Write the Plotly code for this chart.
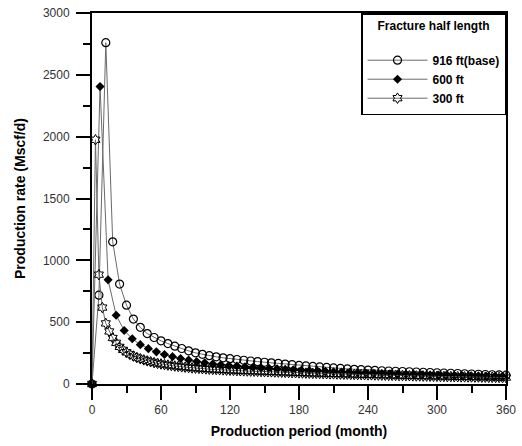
import plotly.graph_objects as go

# Time axes (months)
months_916 = list(range(0, 361, 6))
months_600 = list(range(0, 358, 7))
months_300 = list(range(0, 361, 3))

rate_916 = [0, 718, 2760, 1150, 808, 637, 525, 458, 408, 376,
            349, 327, 306, 287, 268, 252, 240, 229, 220, 212,
            205, 198, 192, 186, 181, 176, 171, 166, 161, 156,
            150, 146, 142, 138, 134, 130, 126, 122, 119, 116,
            113, 110, 107, 105, 103, 101, 99, 97, 95, 93,
            91, 89, 87, 85, 83, 81, 79, 77, 75, 73,
            71]

rate_600 = [0, 2405, 842, 556, 433, 366, 318, 286, 260, 239,
            221, 206, 194, 181, 172, 162, 156, 150, 145, 140,
            135, 130, 126, 122, 118, 114, 111, 108, 105, 102,
            99, 96, 94, 91, 89, 87, 85, 83, 81, 79,
            77, 75, 73, 72, 70, 68, 67, 65, 64, 62,
            61, 60]

rate_300 = [0, 1975, 884, 618, 490, 425, 372, 333, 300, 276,
            256, 240, 226, 214, 204, 195, 187, 180, 173, 167,
            162, 157, 153, 149, 145, 142, 139, 136, 133, 130,
            128, 126, 124, 122, 120, 118, 117, 115, 114, 112,
            111, 110, 108, 107, 106, 105, 104, 103, 102, 101,
            100, 99, 98, 97, 96, 95, 94, 93, 92, 91,
            90, 89, 88, 87, 86, 86, 85, 84, 83, 82,
            82, 81, 80, 79, 79, 78, 77, 76, 76, 75,
            74, 74, 73, 72, 72, 71, 70, 70, 69, 68,
            68, 67, 67, 66, 65, 65, 64, 64, 63, 62,
            62, 61, 61, 60, 60, 59, 59, 58, 58, 57,
            57, 56, 56, 55, 55, 54, 54, 53, 53, 52,
            52]

series_names = ["916 ft(base)", "600 ft", "300 ft"]

FONT = "Arial, 'Liberation Sans', sans-serif"
LINE_COLOR = "#6a6a6a"

fig = go.Figure()

fig.add_trace(go.Scatter(
    x=months_916, y=rate_916, name=series_names[0], mode="lines+markers",
    line=dict(color=LINE_COLOR, width=1),
    marker=dict(symbol="circle-open", size=8, color="black", line=dict(width=1.2, color="black")),
    cliponaxis=False,
))
fig.add_trace(go.Scatter(
    x=months_600, y=rate_600, name=series_names[1], mode="lines+markers",
    line=dict(color=LINE_COLOR, width=1),
    marker=dict(symbol="diamond", size=7, color="black"),
    cliponaxis=False,
))
fig.add_trace(go.Scatter(
    x=months_300, y=rate_300, name=series_names[2], mode="lines+markers",
    line=dict(color=LINE_COLOR, width=1),
    marker=dict(symbol="hexagram-open", size=8, color="black", line=dict(width=1, color="black")),
    cliponaxis=False,
))

axis_common = dict(
    showline=True, linecolor="black", linewidth=2, mirror=True,
    ticks="outside", tickcolor="black", tickwidth=2,
    showgrid=False, zeroline=False, automargin=False,
    ticklabeloverflow="allow",
    tickfont=dict(family=FONT, size=12, color="#333333"),
)

fig.update_xaxes(
    range=[0, 360], tick0=0, dtick=60, ticklen=14,
    minor=dict(dtick=30, ticks="outside", ticklen=7, tickwidth=2, tickcolor="black"),
    title=dict(text="<b>Production period (month)</b>", font=dict(family=FONT, size=14, color="black"), standoff=10),
    **axis_common,
)
fig.update_yaxes(
    range=[0, 3000], tick0=0, dtick=500, ticklen=14, ticklabelstandoff=4,
    minor=dict(dtick=250, ticks="outside", ticklen=7, tickwidth=2, tickcolor="black"),
    title=dict(text="<b>Production rate (Mscf/d)</b>", font=dict(family=FONT, size=14, color="black"), standoff=14),
    **axis_common,
)

fig.update_layout(
    width=522, height=446,
    margin=dict(l=92, r=16, t=13, b=62),
    paper_bgcolor="white", plot_bgcolor="white",
    font=dict(family=FONT, color="black"),
    legend=dict(
        x=1, xanchor="right", y=1, yanchor="top",
        bgcolor="white", bordercolor="black", borderwidth=1.5,
        font=dict(family=FONT, size=12, color="black", weight="bold"),
        title=dict(text="<b>Fracture half length</b><br> ", side="top center",
                   font=dict(family=FONT, size=12, color="black")),
        itemwidth=60, tracegroupgap=0,
    ),
)

fig.write_html("out.html", config={"displayModeBar": False},
               post_script="document.body.style.margin='0';")
